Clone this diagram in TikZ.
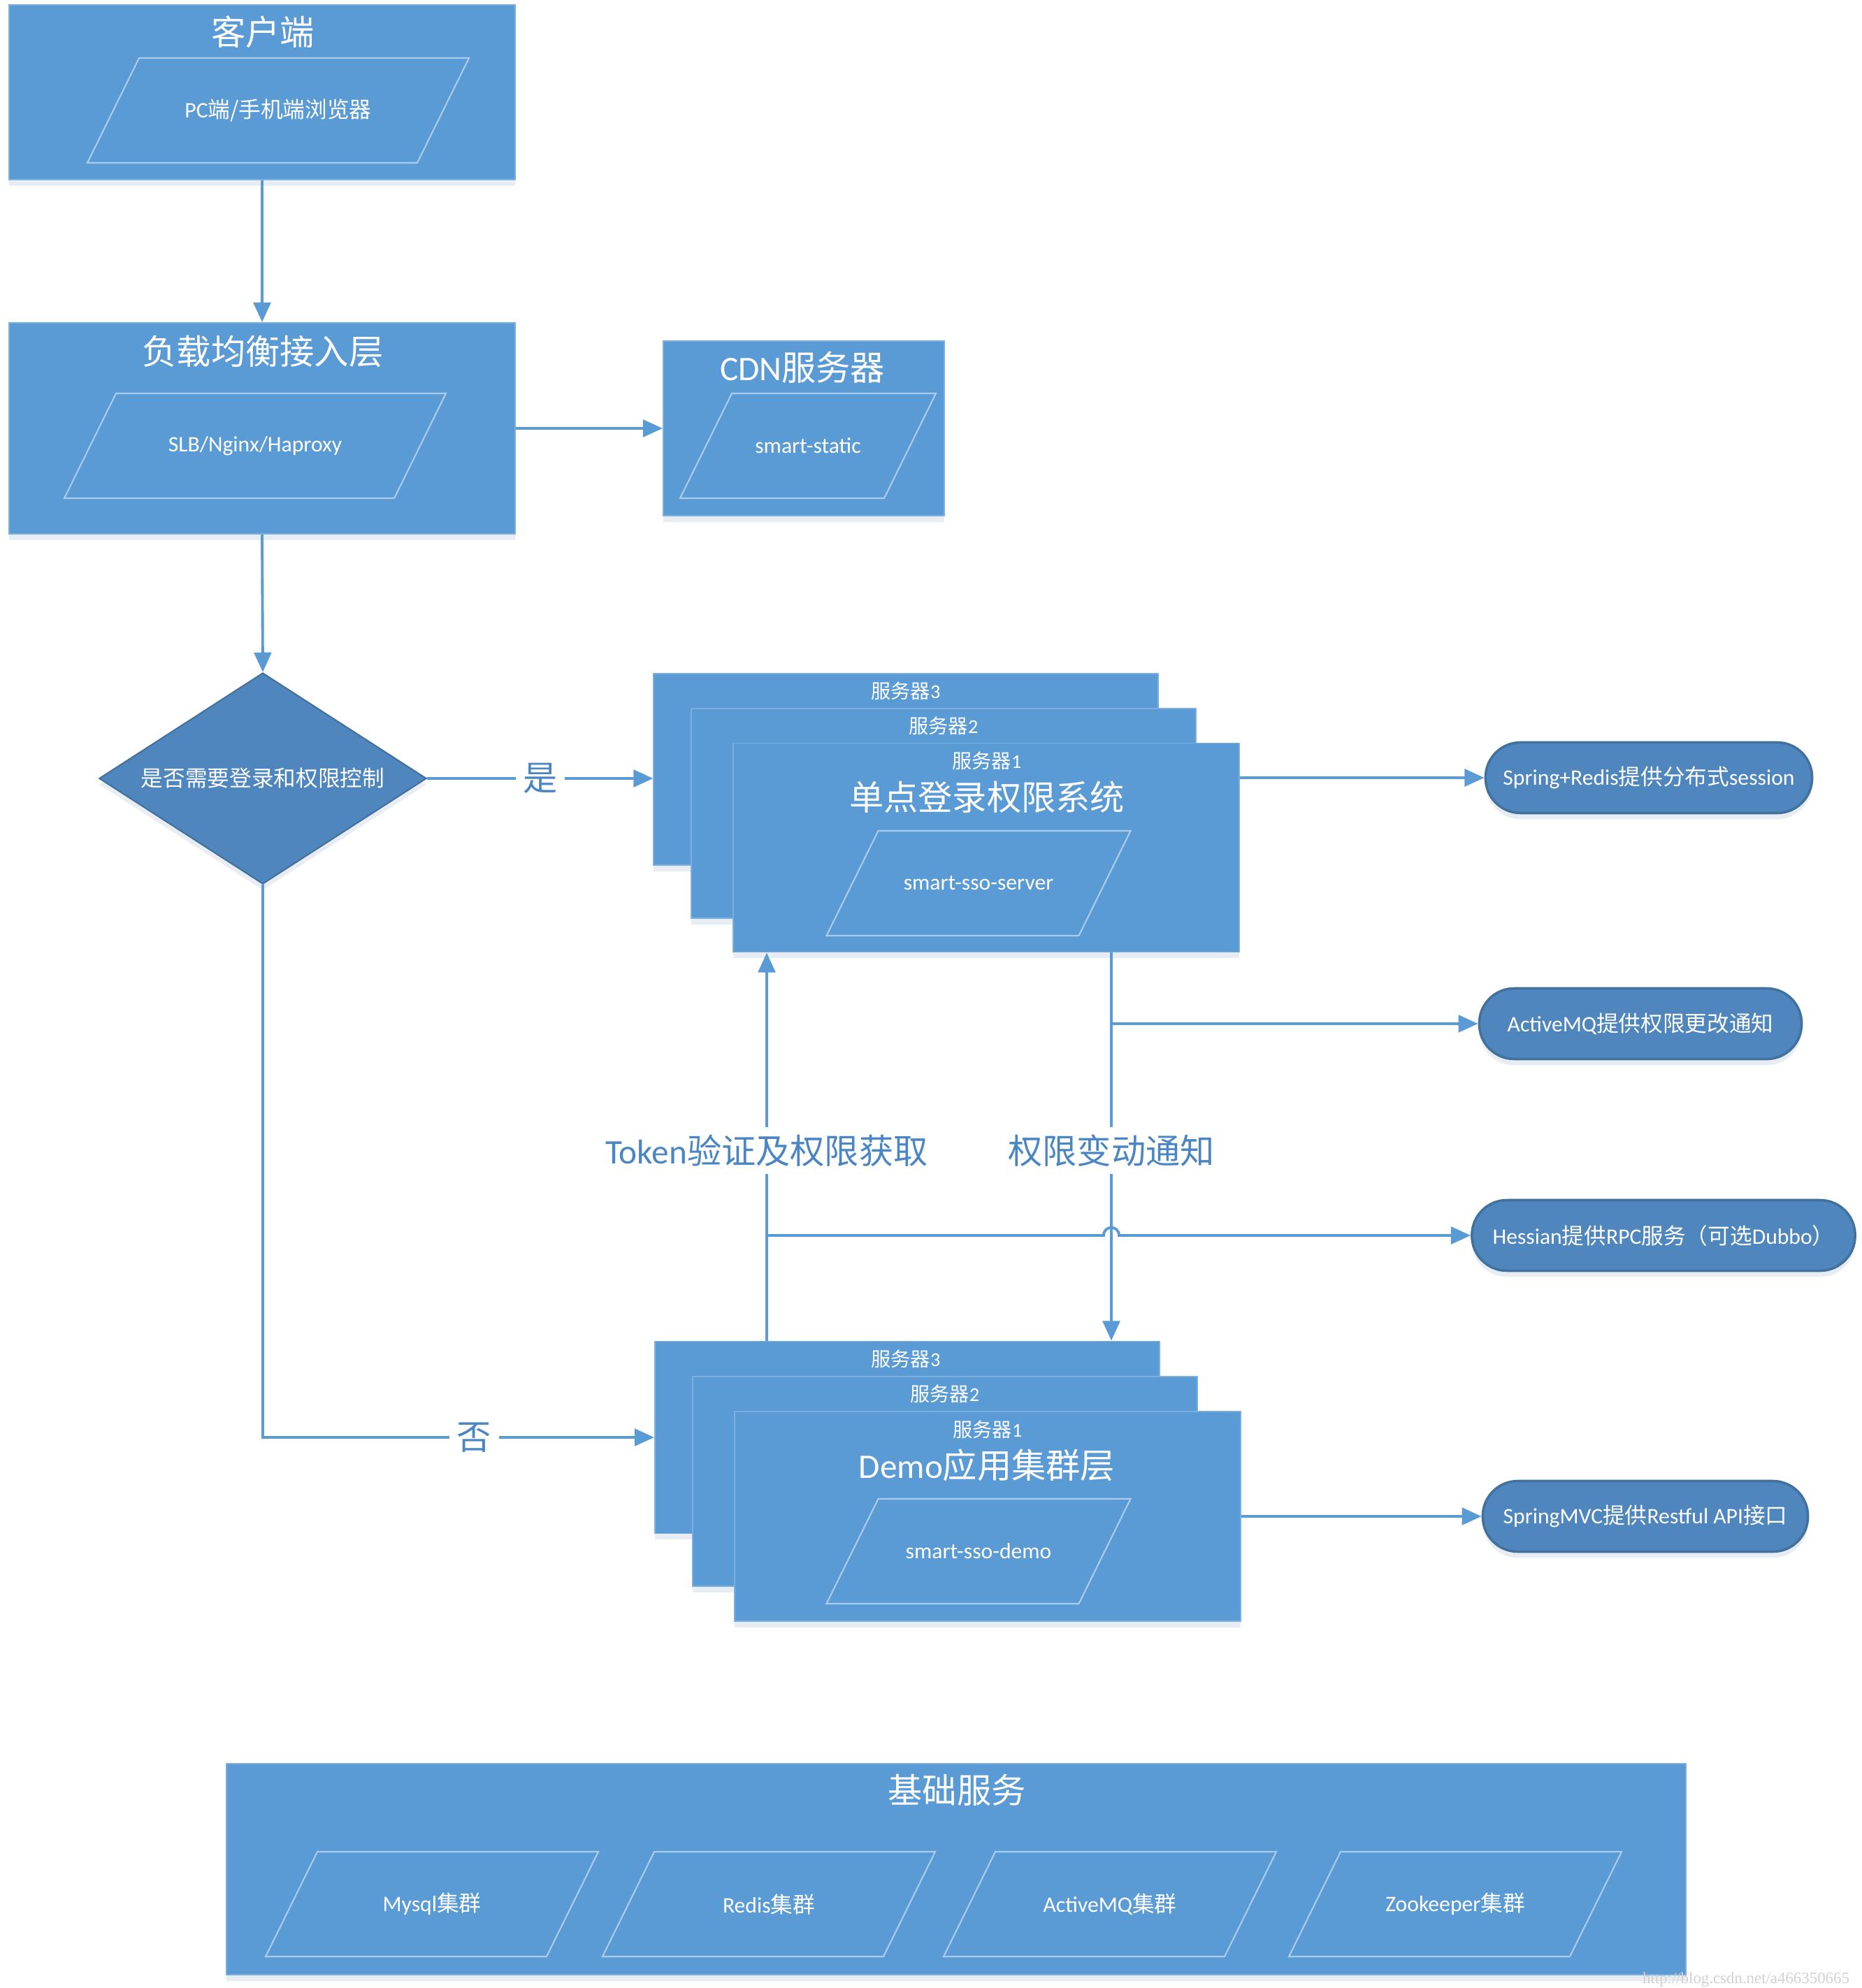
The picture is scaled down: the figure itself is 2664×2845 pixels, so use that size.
\documentclass[tikz,border=0pt]{standalone}
\usepackage{fontspec}
\setmainfont{Carlito}
\newfontfamily\zhfont{Noto Sans CJK SC}
\newfontfamily\wmfont{Liberation Serif}
\newcommand\zh[1]{{\zhfont #1}}
\usetikzlibrary{calc}
\usetikzlibrary{positioning}
\usetikzlibrary{arrows.meta}
\usetikzlibrary{shapes.geometric,shadows}
\definecolor{boxblue}{HTML}{5B9BD5}
\definecolor{deepblue}{HTML}{4F86BE}
\definecolor{rimblue}{HTML}{41719C}
\definecolor{edgepale}{HTML}{A9CCEC}
\definecolor{wireblue}{HTML}{5B9BD5}
\definecolor{tagblue}{HTML}{4A86C4}

% parallelogram: name, centre, side width, text
\newcommand\slantbox[4]{%
  \node[slanttext] (#1) at #2 {#4};
  \draw[slantline] ($(#1)+(-#3/2+37,-75)$) -- ($(#1)+(#3/2+37,-75)$)
    -- ($(#1)+(#3/2-37,75)$) -- ($(#1)+(-#3/2-37,75)$) -- cycle;
}

\begin{document}
\begin{tikzpicture}[%
  >={Triangle[length=8pt,width=7pt]},
  x=0.01cm, y=-0.01cm,
  layer/.style={rectangle, fill=boxblue, draw=boxblue!80!white, line width=0.5pt,
    inner sep=0pt,
    drop shadow={shadow xshift=0pt, shadow yshift=-2.5pt, opacity=0.12, fill=rimblue}},
  headline/.style={text=white, font=\fontsize{14}{16}\selectfont},
  slanttext/.style={text=white, font=\fontsize{9}{11}\selectfont},
  slantline/.style={draw=edgepale, line width=0.6pt},
  tiny/.style={text=white, font=\fontsize{8}{10}\selectfont},
  pill/.style={rectangle, rounded corners=0.5cm, fill=deepblue, draw=rimblue,
    line width=1pt, text=white, font=\fontsize{9}{11}\selectfont,
    minimum height=1.01cm, inner sep=0pt,
    drop shadow={shadow xshift=0pt, shadow yshift=-2.5pt, opacity=0.12, fill=rimblue}},
  decision/.style={diamond, fill=deepblue, draw=rimblue, line width=0.6pt, inner sep=0pt,
    drop shadow={shadow xshift=0pt, shadow yshift=-2.5pt, opacity=0.12, fill=rimblue}},
  wire/.style={draw=wireblue, line width=1.1pt},
  tag/.style={fill=white, text=tagblue, font=\fontsize{14}{16}\selectfont, inner sep=3pt},
]

  \fill[white] (0,0) rectangle (2664,2845);
  \useasboundingbox (0,0) rectangle (2664,2845);

  % client and load balancer
  \node[layer, minimum width=7.24cm, minimum height=2.50cm] (client) at (375,132) {};
  \node[headline] (clientT) at (376,46) {\zh{客户端}};
  \slantbox{clientP}{(398,158)}{472}{PC\zh{端/手机端浏览器}}

  \node[layer, minimum width=7.24cm, minimum height=3.02cm] (lb) at (375,613) {};
  \node[headline] (lbT) at (376,503) {\zh{负载均衡接入层}};
  \slantbox{lbP}{(365,638)}{472}{SLB/Nginx/Haproxy}

  \node[layer, minimum width=4.02cm, minimum height=2.50cm] (cdn) at (1150,613) {};
  \node[headline] (cdnT) at (1148,526) {CDN\zh{服务器}};
  \slantbox{cdnP}{(1156,638)}{292}{smart-static}

  \node[decision, minimum width=4.68cm, minimum height=3.02cm] (need) at (376,1114) {};
  \node[slanttext] (needT) at (need) {\zh{是否需要登录和权限控制}};

  % sso server stack
  \node[layer, minimum width=7.21cm, minimum height=2.74cm] (sso3) at (1296,1101) {};
  \node[tiny] (sso3T) at (1296,989) {\zh{服务器}3};
  \node[layer, minimum width=7.22cm, minimum height=3.00cm] (sso2) at (1350,1164) {};
  \node[tiny] (sso2T) at (1350,1039) {\zh{服务器}2};
  \node[layer, minimum width=7.24cm, minimum height=2.99cm] (sso1) at (1411,1213) {};
  \node[tiny] (sso1T) at (1412,1089) {\zh{服务器}1};
  \node[headline] (ssoT) at (1412,1141) {\zh{单点登录权限系统}};
  \slantbox{ssoP}{(1400,1264)}{361}{smart-sso-server}

  % demo stack
  \node[layer, minimum width=7.22cm, minimum height=2.75cm] (demo3) at (1298,2057) {};
  \node[tiny] (demo3T) at (1296,1945) {\zh{服务器}3};
  \node[layer, minimum width=7.22cm, minimum height=3.00cm] (demo2) at (1352,2120) {};
  \node[tiny] (demo2T) at (1352,1995) {\zh{服务器}2};
  \node[layer, minimum width=7.23cm, minimum height=3.00cm] (demo1) at (1413,2170) {};
  \node[tiny] (demo1T) at (1413,2046) {\zh{服务器}1};
  \node[headline] (demoT) at (1412,2097) {Demo\zh{应用集群层}};
  \slantbox{demoP}{(1400,2220)}{361}{smart-sso-demo}

  % right hand services
  \node[pill, minimum width=4.67cm] (spring) at (2359,1113) {Spring+Redis\zh{提供分布式}session};
  \node[pill, minimum width=4.61cm] (mq) at (2347,1465) {ActiveMQ\zh{提供权限更改通知}};
  \node[pill, minimum width=5.48cm] (hess) at (2380,1768) {Hessian\zh{提供}RPC\zh{服务（可选}Dubbo\zh{）}};
  \node[pill, minimum width=4.65cm] (mvc) at (2354,2170) {SpringMVC\zh{提供}Restful API\zh{接口}};

  % base services
  \node[layer, minimum width=20.87cm, minimum height=3.02cm] (base) at (1368,2675) {};
  \node[headline] (baseT) at (1369,2562) {\zh{基础服务}};
  \slantbox{mysql}{(618,2725)}{402}{Mysql\zh{集群}}
  \slantbox{redis}{(1100,2725)}{402}{Redis\zh{集群}}
  \slantbox{amq}{(1588,2725)}{402}{ActiveMQ\zh{集群}}
  \slantbox{zk}{(2082,2725)}{402}{Zookeeper\zh{集群}}

  % connectors
  \coordinate (tokX) at (1097,0);
  \coordinate (permX) at (1590,0);

  \draw[wire,->] (client) -- (lb);
  \draw[wire,->] (lb) -- (cdn);
  \draw[wire,->] (lb.south) -- (need.north);
  \draw[wire,->] (need.east) -- node[tag] {\zh{是}} (need.east -| sso3.west);
  \draw[wire,->] (need.south) |- node[tag, pos=0.77] {\zh{否}} (demo3.west);
  \draw[wire,->] (spring.west -| sso1.east) -- (spring.west);
  \draw[wire,->] (demo1) -- (mvc);

  \draw[wire,->] (tokX |- demo3.north) -- node[tag, pos=0.49] {Token\zh{验证及权限获取}} (tokX |- sso1.south);
  \draw[wire,->] (permX |- sso1.south) -- node[tag, pos=0.51] {\zh{权限变动通知}} (permX |- demo3.north);
  \draw[wire,->] (permX |- mq.west) -- (mq.west);

  \coordinate (hopL) at ($(permX |- hess.west)+(-11,0)$);
  \coordinate (hopR) at ($(permX |- hess.west)+(11,0)$);
  \draw[wire,->] (tokX |- hess.west) -- (hopL) .. controls +(0,-15) and +(0,-15) .. (hopR) -- (hess.west);

  \node[text=black!18, font=\wmfont\fontsize{6.5}{8}\selectfont] (mark) at (2498,2833) {http://blog.csdn.net/a466350665};

\end{tikzpicture}
\end{document}
